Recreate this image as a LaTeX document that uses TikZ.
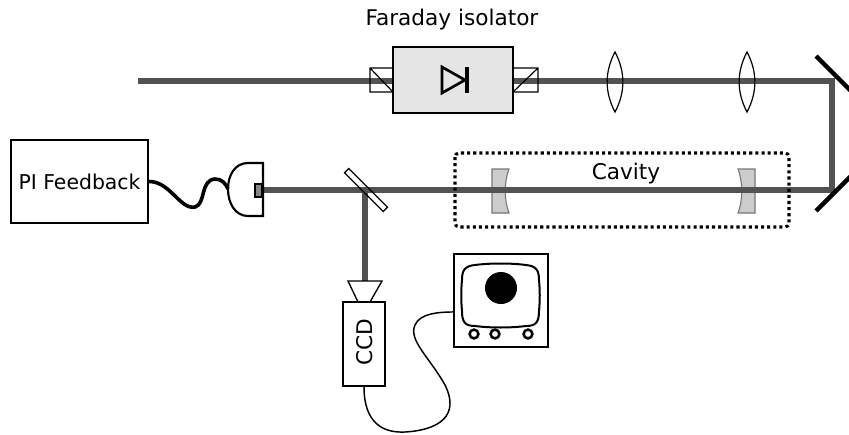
\documentclass[tikz,border=0pt]{standalone}
\usepackage{fontspec}
\setmainfont{DejaVu Sans}
\usetikzlibrary{calc}
\definecolor{beamgray}{RGB}{82,82,82}
\definecolor{isofill}{RGB}{229,229,229}
\definecolor{mirrorfill}{RGB}{204,204,204}
\definecolor{mirroredge}{RGB}{118,118,118}
\tikzset{
  lbl/.style={font=\fontsize{16.2}{19}\selectfont, inner sep=0pt},
  smalllbl/.style={font=\fontsize{15.3}{18}\selectfont, inner sep=0pt},
  framebox/.style={draw, line width=1pt, inner sep=0pt},
  beam/.style={draw=beamgray, line width=4.3pt, line join=miter},
  optic/.style={draw, line width=0.9pt},
  cavmirror/.style={draw=mirroredge, fill=mirrorfill, line width=0.8pt},
  foldmirror/.style={draw, line width=3.4pt},
  cavitybox/.style={draw, line width=2.3pt, dash pattern=on 2.3pt off 2.3pt, rounded corners=3pt},
  cable/.style={draw, line width=2.7pt},
  thincable/.style={draw, line width=1.1pt},
}
\begin{document}
\begin{tikzpicture}[x=0.75pt, y=-0.75pt]
\useasboundingbox (0,0) rectangle (849,435);
\clip (0,0) rectangle (849,435);

% beam path corners
\coordinate (bstart) at (138,81);
\coordinate (bfold1) at (832,81);
\coordinate (bfold2) at (832,190);
\coordinate (bend) at (262,190);
\coordinate (bsplit) at (365,190);
\coordinate (bccd) at (365,281);

% cavity mirrors (beneath the beam)
\path[cavmirror] (492,169) -- (509,169) .. controls (504,182) and (504,200) .. (509,213) -- (492,213) -- cycle;
\path[cavmirror] (738,169) -- (755,169) -- (755,213) -- (738,213) .. controls (743,200) and (743,182) .. (738,169) -- cycle;

% laser beam
\path[beam] (bstart) -- (bfold1) -- (bfold2) -- (bend);
\path[beam] (bsplit) -- (bccd);

% Faraday isolator
\node[framebox, fill=isofill, minimum width=90pt, minimum height=49.5pt] (iso) at (453,80) {};
\draw[line width=2pt, line join=miter] (442,67) -- (465,80) -- (442,93) -- cycle;
\draw[line width=2.6pt] (467,67) -- (467,93);
\node[lbl, anchor=base] (isolabel) at (452,26) {Faraday isolator};
% polarizers
\draw[optic] (370,68) rectangle (393,92) (370,68) -- (393,92);
\draw[optic] (513,68) rectangle (538,92) (513,92) -- (538,68);

% lenses
\foreach \lx in {615,747}{
  \draw[optic] (\lx,52) .. controls (\lx-10.5,72) and (\lx-10.5,92) .. (\lx,112)
               .. controls (\lx+10.5,92) and (\lx+10.5,72) .. (\lx,52) -- cycle;
}

% folding mirrors
\draw[foldmirror] (816,56) -- (875,115);
\draw[foldmirror] (816,211) -- (875,152);

% cavity
\draw[cavitybox] (455,153) rectangle (789,227);
\node[lbl, anchor=base] (cavlabel) at (626,179) {Cavity};

% beam splitter
\draw[optic] (344.5,172.7) -- (348.7,168.5) -- (387.5,207.3) -- (383.3,211.5) -- cycle;

% photodiode
\draw[line width=1.6pt, fill=white] (263,163) -- (248,163) .. controls (235,163) and (228,175) .. (228,189)
   .. controls (228,203) and (235,216) .. (248,216) -- (263,216) -- cycle;
\draw[line width=0.9pt, fill=beamgray!70] (255,184) rectangle (262,197);
\coordinate (pdin) at (228,189);

% PI feedback
\node[framebox, smalllbl, minimum width=102.75pt, minimum height=62.25pt] (pi) at (79.5,181.5) {PI Feedback};
\draw[cable] (pi.east) .. controls (170,181) and (180,210) .. (195,207)
   .. controls (206,204) and (200,180) .. (215,179) .. controls (222,179) and (226,184) .. (pdin);

% CCD camera
\draw[line width=1pt] (348,281) -- (382,281) -- (370,302) -- (358,302) -- cycle;
\node[framebox, minimum width=31.5pt, minimum height=63pt] (ccd) at (364,344) {};
\node[lbl, rotate=90] (ccdlabel) at (365,342) {CCD};

% monitor
\node[framebox, minimum width=70.5pt, minimum height=69.75pt] (scope) at (501,300.5) {};
\draw[line width=1.5pt] (475,265) .. controls (490,263) and (511,263) .. (526,265)
  .. controls (536,266) and (539,270) .. (539,280)
  .. controls (540,290) and (540,301) .. (539,311)
  .. controls (539,322) and (536,326) .. (526,326)
  .. controls (511,328) and (490,328) .. (475,326)
  .. controls (465,326) and (462,322) .. (462,311)
  .. controls (461,301) and (461,290) .. (462,280)
  .. controls (462,270) and (465,266) .. (475,265) -- cycle;
\fill (501,288) circle (12pt);
\foreach \kx in {474,495,528}{
  \draw[line width=1.9pt] (\kx,334) circle (3.3pt);
}
\draw[thincable] (ccd.south) .. controls (364,425) and (385,433) .. (405,432)
  .. controls (440,430) and (460,415) .. (445,385)
  .. controls (430,358) and (408,340) .. (415,325)
  .. controls (420,313) and (440,312) .. ([yshift=-8.6pt]scope.west);
\end{tikzpicture}
\end{document}
